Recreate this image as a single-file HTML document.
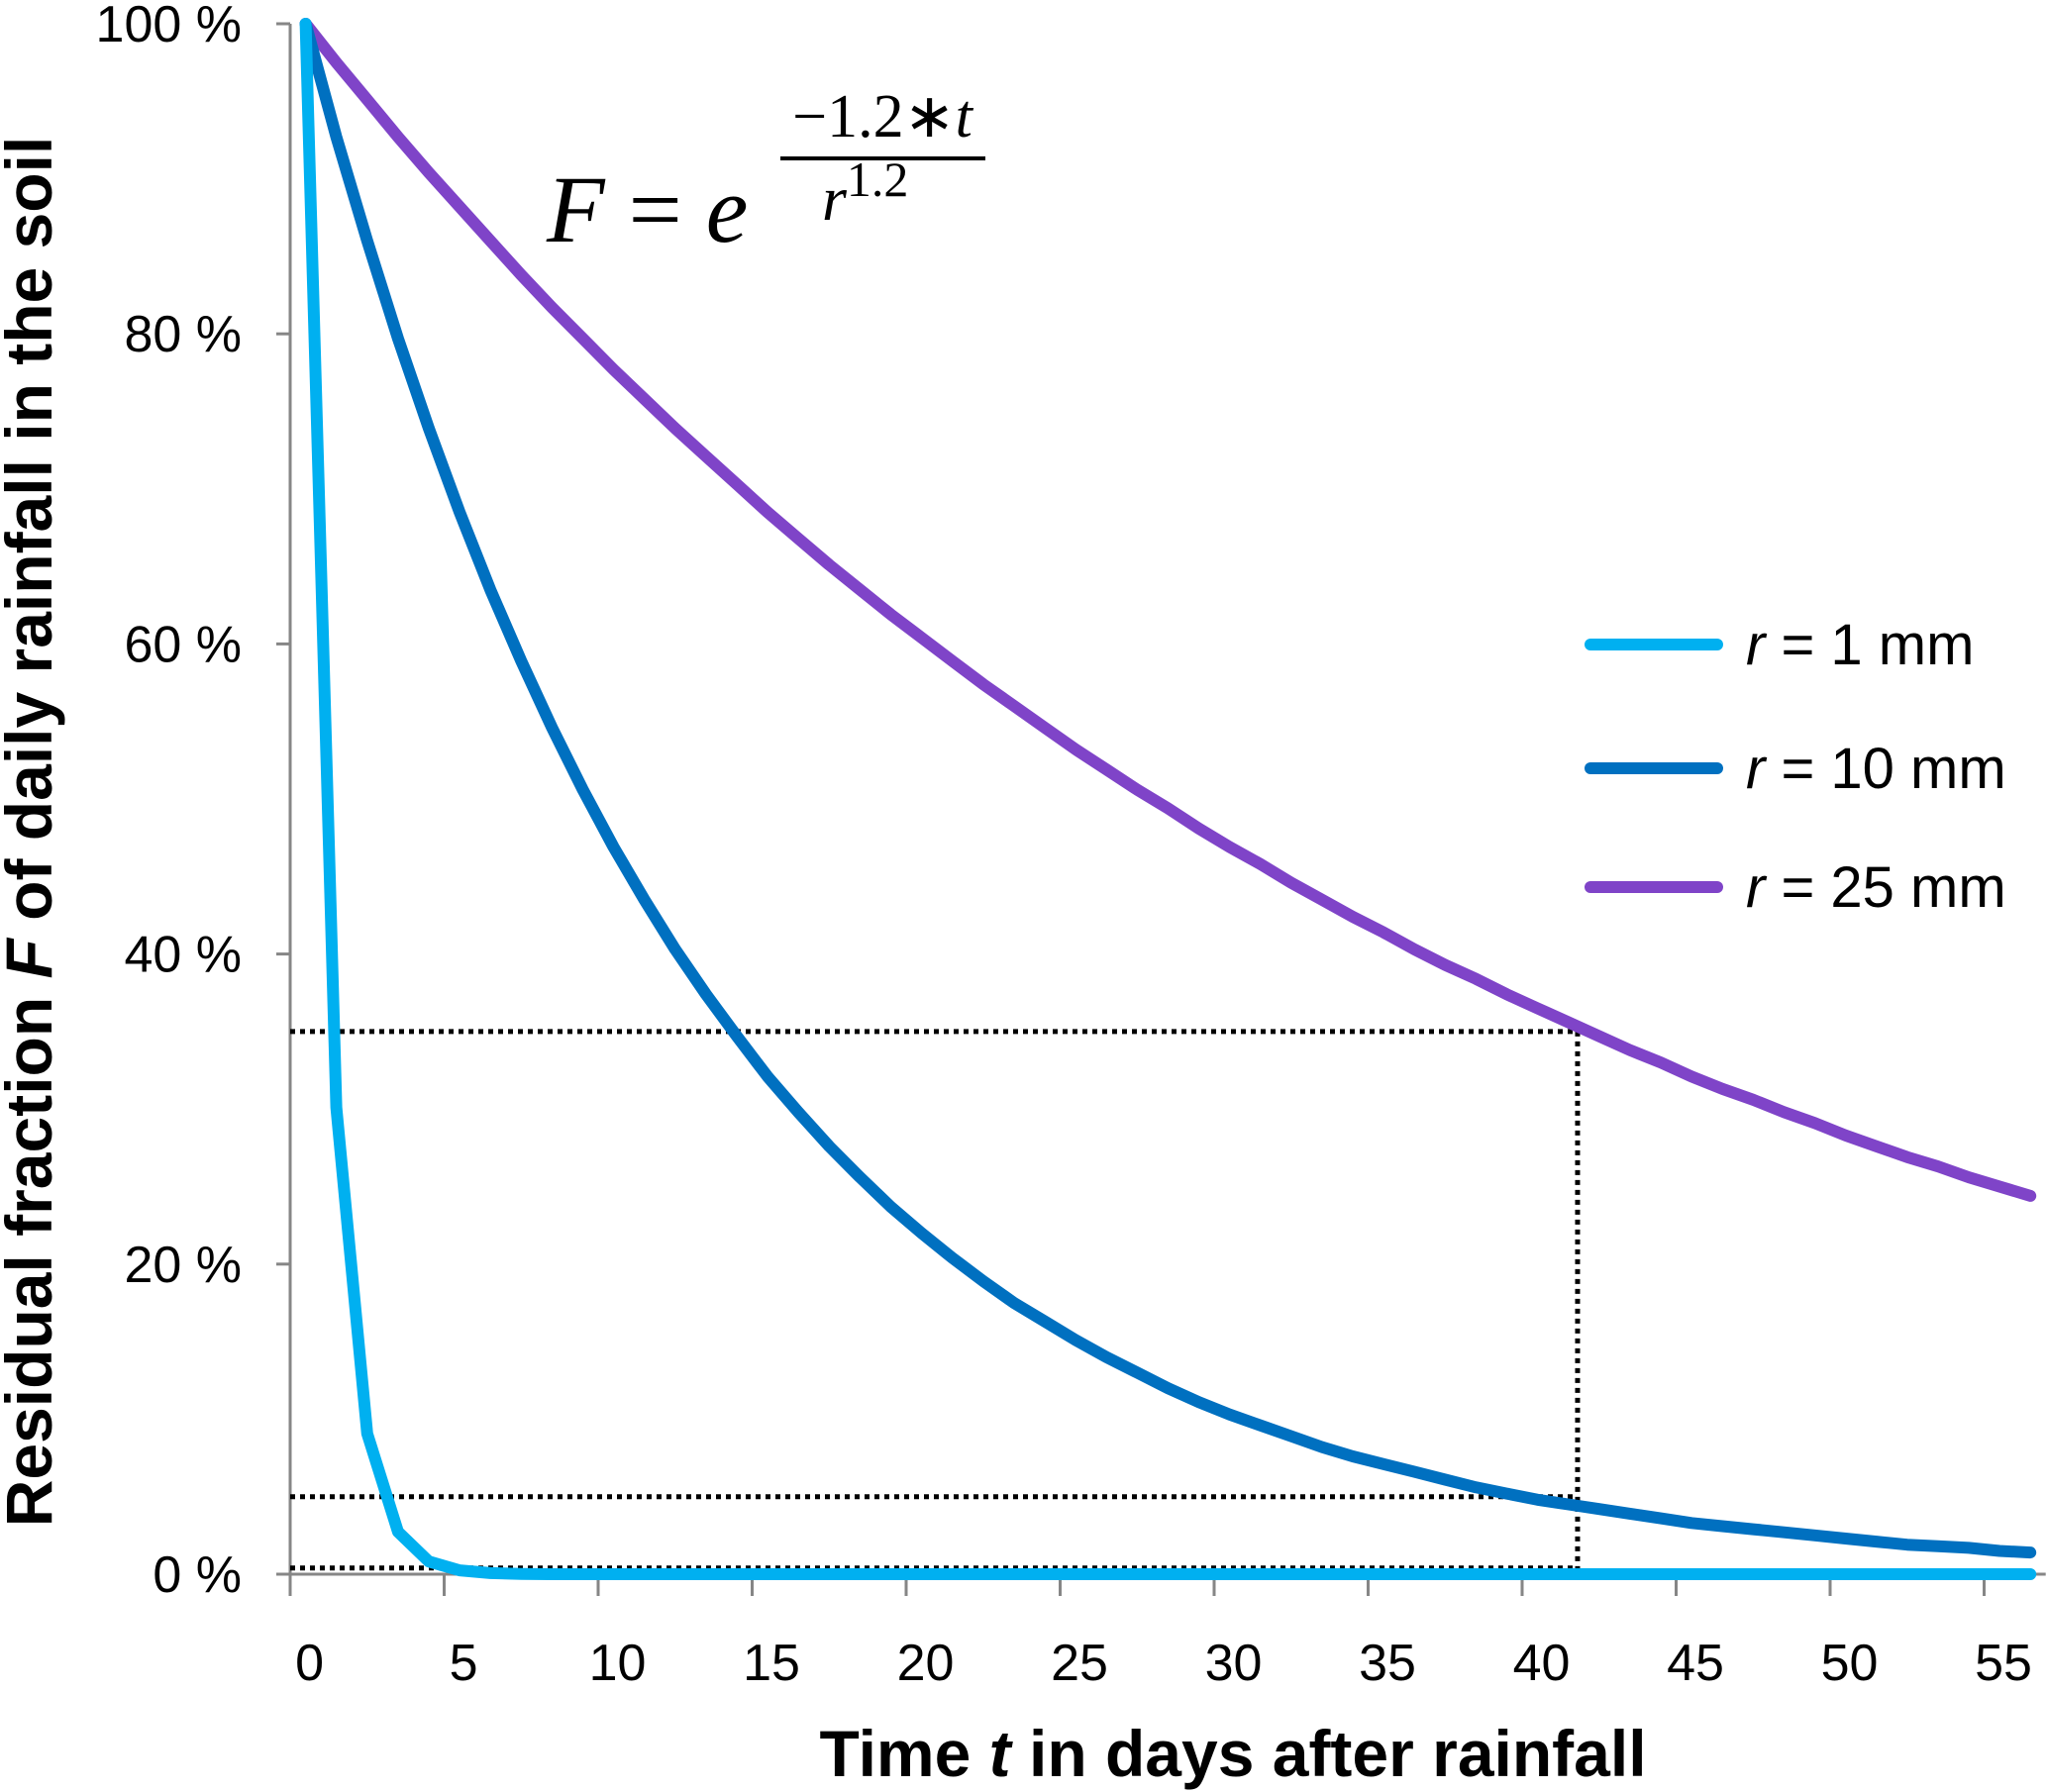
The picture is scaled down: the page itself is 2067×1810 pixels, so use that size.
<!DOCTYPE html>
<html><head><meta charset="utf-8"><style>
html,body{margin:0;padding:0;background:#fff;}
svg{display:block;font-family:"Liberation Sans",sans-serif;}
</style></head><body>
<svg id="chart" width="2067" height="1810" viewBox="0 0 2067 1810" xmlns="http://www.w3.org/2000/svg">
<g id="grid"></g>
<g id="series"></g>
<text x="552" y="244" font-family="Liberation Serif,serif" font-style="italic" font-size="96">F <tspan font-style="normal">=</tspan> e</text>
<text x="891" y="138" text-anchor="middle" font-family="Liberation Serif,serif" font-size="62"><tspan font-style="normal">−1.2∗</tspan><tspan font-style="italic">t</tspan></text>
<line x1="788" y1="160" x2="995" y2="160" stroke="#000" stroke-width="4"/>
<text x="830" y="222" font-family="Liberation Serif,serif" font-size="64"><tspan font-style="italic">r</tspan><tspan font-size="50" dy="-24">1.2</tspan></text>
<text x="1245" y="1794" text-anchor="middle" font-weight="bold" font-size="66">Time <tspan font-style="italic">t</tspan> in days after rainfall</text>
<text transform="translate(52,840) rotate(-90)" text-anchor="middle" font-weight="bold" font-size="66">Residual fraction <tspan font-style="italic">F</tspan> of daily rainfall in the soil</text>
<g id="legend"></g>
</svg>
<script>
const days = [];
for (let i = 0; i <= 56; i++) days.push(i);
const r1 = [1,0.301,0.0907,0.0273,0.0082,0.0025,0.0007,0.0002,0,0,0,0,0,0,0,0,0,0,0,0,0,0,0,0,0,0,0,0,0,0,0,0,0,0,0,0,0,0,0,0,0,0,0,0,0,0,0,0,0,0,0,0,0,0,0,0,0];
const r10 = [1,0.927,0.860,0.797,0.739,0.685,0.635,0.589,0.546,0.506,0.469,0.435,0.403,0.374,0.347,0.321,0.298,0.276,0.256,0.237,0.220,0.204,0.189,0.175,0.163,0.151,0.140,0.130,0.120,0.111,0.103,0.096,0.089,0.082,0.076,0.071,0.066,0.061,0.056,0.052,0.048,0.045,0.042,0.039,0.036,0.033,0.031,0.029,0.027,0.025,0.023,0.021,0.019,0.018,0.017,0.015,0.014];
const r25 = [1,0.975,0.951,0.927,0.904,0.882,0.860,0.838,0.817,0.797,0.777,0.758,0.739,0.721,0.703,0.685,0.668,0.651,0.635,0.619,0.604,0.589,0.574,0.560,0.546,0.532,0.519,0.506,0.494,0.481,0.469,0.458,0.446,0.435,0.424,0.414,0.403,0.393,0.384,0.374,0.365,0.356,0.347,0.338,0.330,0.321,0.313,0.306,0.298,0.291,0.283,0.276,0.269,0.263,0.256,0.250,0.244];
const seriesNames = ["r = 1 mm","r = 10 mm","r = 25 mm"];
const seriesRadii = ["1","10","25"];
const yTicks = [0,0.2,0.4,0.6,0.8,1.0];
const yTickLabels = ["0 %","20 %","40 %","60 %","80 %","100 %"];
const xTickLabels = ["0","5","10","15","20","25","30","35","40","45","50","55"];
const refLevels = [0.35,0.05,0.004];
const refDay = 41.3;

const NS = "http://www.w3.org/2000/svg";
const X0 = 293, DAYW = 31.1, Y0 = 1590, Y1 = 24;
function xPos(d){ return X0 + (d + 0.5) * DAYW; }
function xEdge(d){ return X0 + d * DAYW; }
function yPos(v){ return Y0 - v * (Y0 - Y1); }
function mk(tag, attrs, parent){ const e = document.createElementNS(NS, tag); for (const k in attrs) e.setAttribute(k, attrs[k]); parent.appendChild(e); return e; }

const grid = document.getElementById('grid');
const series = document.getElementById('series');
const legend = document.getElementById('legend');

let ya = mk('line', {x1:X0, y1:Y1, x2:X0, y2:Y0, stroke:'#868686','stroke-width':3}, grid);


let xa = mk('line', {x1:X0-12, y1:Y0, x2:xEdge(57), y2:Y0, stroke:'#868686','stroke-width':3}, grid);



yTicks.forEach((v, i) => {
  const t = mk('line', {x1:X0-14, y1:yPos(v), x2:X0, y2:yPos(v), stroke:'#868686','stroke-width':3}, grid);
  
  
  const l = mk('text', {x:244, y:yPos(v)+18, 'text-anchor':'end', 'font-size':52}, grid);
  l.textContent = yTickLabels[i];
  
  
});
xTickLabels.forEach((lab, i) => {
  const d = +lab;
  const t = mk('line', {x1:xEdge(d), y1:Y0, x2:xEdge(d), y2:Y0+22, stroke:'#868686','stroke-width':3}, grid);
  
  
  const l = mk('text', {x:xPos(d)+4, y:1697, 'text-anchor':'middle', 'font-size':52}, grid);
  l.textContent = lab;
  
  
});

const rx = xPos(refDay);
refLevels.forEach(v => {
  const l = mk('line', {x1:X0, y1:yPos(v), x2:rx, y2:yPos(v), stroke:'#000','stroke-width':5,'stroke-dasharray':'5 5'}, grid);
  
  
});
const vl = mk('line', {x1:rx, y1:yPos(refLevels[0]), x2:rx, y2:Y0, stroke:'#000','stroke-width':5,'stroke-dasharray':'5 5'}, grid);



const data = [r1, r10, r25];
const colors = ['#00B0F0','#0070C0','#7F44C8'];
const order = [2,1,0];
order.forEach(s => {
  const pts = days.map((d, i) => xPos(d).toFixed(1) + ',' + yPos(data[s][i]).toFixed(1)).join(' ');
  const p = mk('polyline', {points:pts, fill:'none', stroke:colors[s], 'stroke-width':12, 'stroke-linejoin':'round','stroke-linecap':'round'}, series);
  
  
});

const legY = [651, 776, 896];
seriesNames.forEach((n, s) => {
  const g = mk('g', {}, legend);
  
  
  mk('line', {x1:1606, y1:legY[s], x2:1734, y2:legY[s], stroke:colors[s], 'stroke-width':12, 'stroke-linecap':'round'}, g);
  const t = mk('text', {x:1763, y:legY[s]+20, 'font-size':58}, g);
  t.innerHTML = '<tspan font-style="italic">r</tspan> = ' + seriesRadii[s] + ' mm';
});
</script>
</body></html>
